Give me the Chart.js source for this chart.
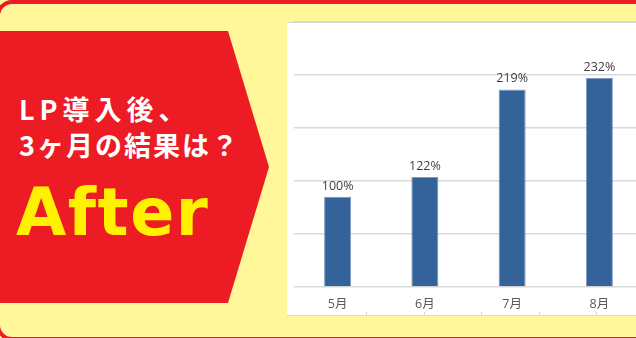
<!DOCTYPE html>
<html lang="ja">
<head>
<meta charset="utf-8">
<script src="https://cdn.jsdelivr.net/npm/chart.js@4"></script>
<style>
  html, body { margin: 0; padding: 0; }
  body { width: 636px; height: 338px; overflow: hidden; position: relative; background: #fff799; }
  .frame {
    position: absolute; left: -4px; top: 0; width: 700px; height: 341px;
    box-sizing: border-box; border: 4px solid #ed1c24; border-radius: 16px; background: #fff799;
  }
  .banner {
    position: absolute; left: 0; top: 31px; width: 270px; height: 272px; background: #ed1c24;
    clip-path: polygon(0 0, 228px 0, 269px 136px, 228px 272px, 0 272px);
  }
  .line {
    position: absolute; left: 19px; color: #fff; white-space: nowrap;
    font-family: "Noto Sans CJK JP", sans-serif; font-weight: 700; font-size: 27px; line-height: 27px;
  }
  .after {
    position: absolute; left: 16px; top: 180px; color: #fff100; white-space: nowrap;
    font-family: "DejaVu Sans", sans-serif; font-weight: 700; font-size: 65px; line-height: 65px; letter-spacing: 1.5px;
  }
  .box {
    position: absolute; left: 287px; top: 22px; width: 400px; height: 294px; background: #fff;
    box-sizing: border-box; border-top: 1px solid #d9d9d9; border-bottom: 1px solid #d9d9d9;
  }
  .box-ticks {
    position: absolute; left: 366px; top: 312px; width: 300px; height: 3px;
    background: repeating-linear-gradient(to right, #d9d9d9 0, #d9d9d9 1px, transparent 1px, transparent 57.6px);
  }
  #chart { position: absolute; left: 287px; top: 12px; }
</style>
</head>
<body>
<div class="frame"></div>
<div class="banner"></div>
<div class="line" style="top:95px;letter-spacing:5px">LP導入後、</div>
<div class="line" style="top:131px;letter-spacing:2px">3ヶ月の結果は？</div>
<div class="after">After</div>
<div class="box"></div>
<div class="box-ticks"></div>
<canvas id="chart" width="360" height="316"></canvas>
<script>
// ====== データ ======
const months = ['5月', '6月', '7月', '8月'];
const results = [100, 122, 219, 232];
const yStep = 58.75;
const yMax = yStep * 5;

// ====== 棒の上に % を表示 ======
const valueLabels = {
  id: 'valueLabels',
  afterDatasetsDraw(chart) {
    const { ctx } = chart;
    const meta = chart.getDatasetMeta(0);
    ctx.save();
    ctx.font = '12.5px "Open Sans", sans-serif';
    ctx.fillStyle = '#404040';
    ctx.textAlign = 'center';
    ctx.textBaseline = 'alphabetic';
    meta.data.forEach((bar, i) => {
      ctx.fillText(results[i] + '%', bar.x, bar.y - 7);
    });
    ctx.restore();
  }
};

const ctx = document.getElementById('chart').getContext('2d');
new Chart(ctx, {
  type: 'bar',
  data: {
    labels: months,
    datasets: [{
      data: results,
      backgroundColor: '#336399',
      borderColor: '#7a98c4',
      borderWidth: 1,
      barPercentage: 0.31,
      categoryPercentage: 1
    }]
  },
  options: {
    responsive: false,
    animation: false,
    layout: { padding: { left: 7, right: 4, top: 10, bottom: 6 } },
    plugins: {
      legend: { display: false },
      tooltip: { enabled: false }
    },
    scales: {
      x: {
        grid: { display: false, drawTicks: false },
        border: { display: false },
        ticks: {
          padding: 10,
          color: '#595959',
          font: { size: 12.5, family: '"Open Sans", "Noto Sans CJK JP", sans-serif' }
        }
      },
      y: {
        min: 0,
        max: yMax,
        grid: { color: '#d9d9d9', lineWidth: 1.5, drawTicks: false },
        border: { display: false },
        ticks: { display: false, stepSize: yStep }
      }
    }
  },
  plugins: [valueLabels]
});
</script>
</body>
</html>
